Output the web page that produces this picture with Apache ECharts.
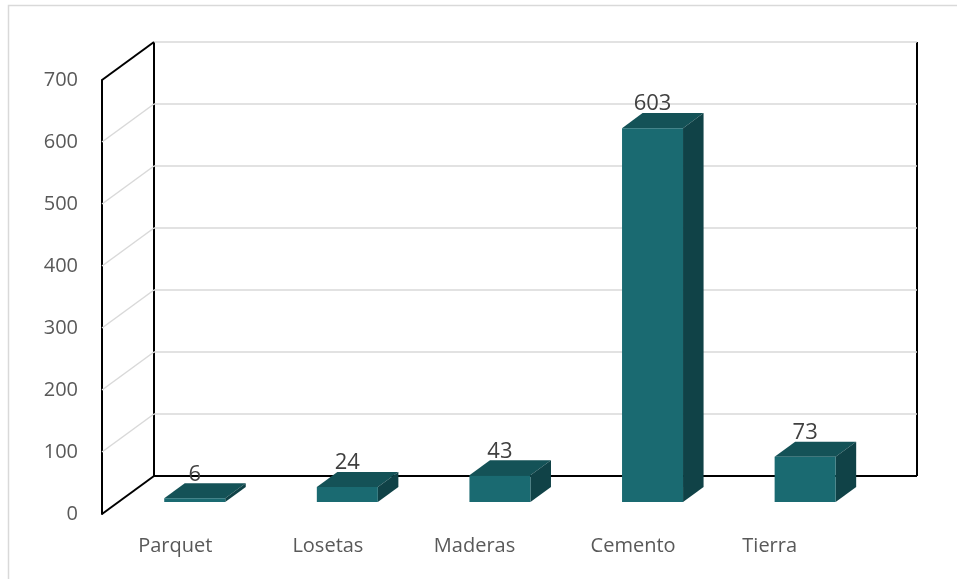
<!DOCTYPE html>
<html>
<head>
<meta charset="utf-8">
<script src="https://cdn.jsdelivr.net/npm/echarts@6/dist/echarts.min.js"></script>
<style>
  html, body { margin: 0; padding: 0; background: #fff; }
  #chart { width: 957px; height: 579px; }
</style>
</head>
<body>
<div id="chart"></div>
<script>
// Floor material counts
const categories = ['Parquet', 'Losetas', 'Maderas', 'Cemento', 'Tierra'];
const values = [6, 24, 43, 603, 73];
const yTicks = [0, 100, 200, 300, 400, 500, 600, 700];

// 3D box geometry: full depth of the walls, and where the columns sit within it
const DEPTH_X = 52, DEPTH_Y = -38;
const BAR_FRONT = 0.316, BAR_DEPTH = 0.395;
const BAR_WIDTH = 61;

const FRONT_COLOR = '#1a6a71';
const TOP_COLOR = '#145257';
const SIDE_COLOR = '#104247';
const EDGE = '#000000';
const GRID = '#d9d9d9';

const chart = echarts.init(document.getElementById('chart'));

function renderWall(params, api) {
  const cs = params.coordSys;
  const v = api.value(0);
  const yF = api.coord([0, v])[1];
  const x0 = cs.x, x1 = cs.x + cs.width;
  const bx0 = x0 + DEPTH_X, bx1 = x1 + DEPTH_X, yB = yF + DEPTH_Y;
  const lo = yTicks[0], hi = yTicks[yTicks.length - 1];
  const isEdge = v === lo || v === hi;
  const children = [
    { type: 'line', shape: { x1: bx0, y1: yB, x2: bx1, y2: yB },
      style: { stroke: v === lo ? EDGE : GRID, lineWidth: v === lo ? 2 : 1.5 } },
    { type: 'line', shape: { x1: x0, y1: yF, x2: bx0, y2: yB },
      style: { stroke: isEdge ? EDGE : GRID, lineWidth: isEdge ? 2 : 1.5 } }
  ];
  if (v === lo) {
    const yTopB = api.coord([0, hi])[1] + DEPTH_Y;
    children.push(
      { type: 'line', shape: { x1: bx0, y1: yTopB, x2: bx0, y2: yB }, style: { stroke: EDGE, lineWidth: 2 } },
      { type: 'line', shape: { x1: bx1, y1: yTopB, x2: bx1, y2: yB }, style: { stroke: EDGE, lineWidth: 2 } }
    );
  }
  return { type: 'group', children: children };
}

function renderBar(params, api) {
  const idx = api.value(0);
  const val = api.value(1);
  const base = api.coord([idx, 0]);
  const top = api.coord([idx, val]);
  const sx = BAR_FRONT * DEPTH_X, sy = BAR_FRONT * DEPTH_Y;
  const dx = BAR_DEPTH * DEPTH_X, dy = BAR_DEPTH * DEPTH_Y;
  const xl = base[0] + sx - BAR_WIDTH / 2;
  const xr = base[0] + sx + BAR_WIDTH / 2;
  const yb = base[1] + sy;
  const yt = top[1] + sy;
  return {
    type: 'group',
    children: [
      { type: 'polygon', shape: { points: [[xl, yt], [xr, yt], [xr + dx, yt + dy], [xl + dx, yt + dy]] },
        style: { fill: TOP_COLOR } },
      { type: 'polygon', shape: { points: [[xr, yt], [xr + dx, yt + dy], [xr + dx, yb + dy], [xr, yb]] },
        style: { fill: SIDE_COLOR } },
      { type: 'rect', shape: { x: xl, y: yt, width: BAR_WIDTH, height: yb - yt },
        style: { fill: FRONT_COLOR } },
      { type: 'text', z2: 20,
        style: { text: String(val), x: (xl + xr) / 2, y: yt + dy - 9, align: 'center', verticalAlign: 'middle',
          fill: '#404040', font: '22px "Open Sans"' } }
    ]
  };
}

// small per-label nudges for the category captions
const labelNudge = ['n3', 'n3', 'n9', 'n3', 'n19'];

chart.setOption({
  animation: false,
  backgroundColor: '#ffffff',
  graphic: [
    { type: 'rect', shape: { x: 8.5, y: 5.5, width: 1200, height: 1200 },
      style: { fill: 'none', stroke: '#d9d9d9', lineWidth: 1.5 }, silent: true, z: -1 }
  ],
  grid: { left: 102, top: 80, width: 763, height: 434, containLabel: false },
  xAxis: {
    type: 'category',
    data: categories,
    axisLine: { show: false },
    axisTick: { show: false },
    splitLine: { show: false },
    axisLabel: {
      interval: 0,
      margin: 32,
      verticalAlign: 'middle',
      color: '#595959',
      fontFamily: 'Open Sans',
      fontSize: 20,
      formatter: function (name, i) { return '{' + labelNudge[i] + '|' + name + '}'; },
      rich: {
        n3: { padding: [0, 6, 0, 0] },
        n9: { padding: [0, 18, 0, 0] },
        n19: { padding: [0, 38, 0, 0] }
      }
    }
  },
  yAxis: {
    type: 'value',
    min: 0,
    max: 700,
    interval: 100,
    axisLine: { show: true, lineStyle: { color: EDGE, width: 2 } },
    axisTick: { show: false },
    splitLine: { show: false },
    axisLabel: {
      margin: 24,
      color: '#595959',
      fontFamily: 'Open Sans',
      fontSize: 20,
      formatter: function (v) { return yTicks.indexOf(v) >= 0 ? String(v) : ''; }
    }
  },
  series: [
    {
      type: 'custom',
      z: 1,
      silent: true,
      renderItem: renderWall,
      data: yTicks.map(function (t) { return [t]; }),
      encode: { y: 0 }
    },
    {
      type: 'custom',
      z: 3,
      silent: true,
      renderItem: renderBar,
      data: values.map(function (v, i) { return [i, v]; }),
      encode: { x: 0, y: 1 }
    }
  ]
});
</script>
</body>
</html>
